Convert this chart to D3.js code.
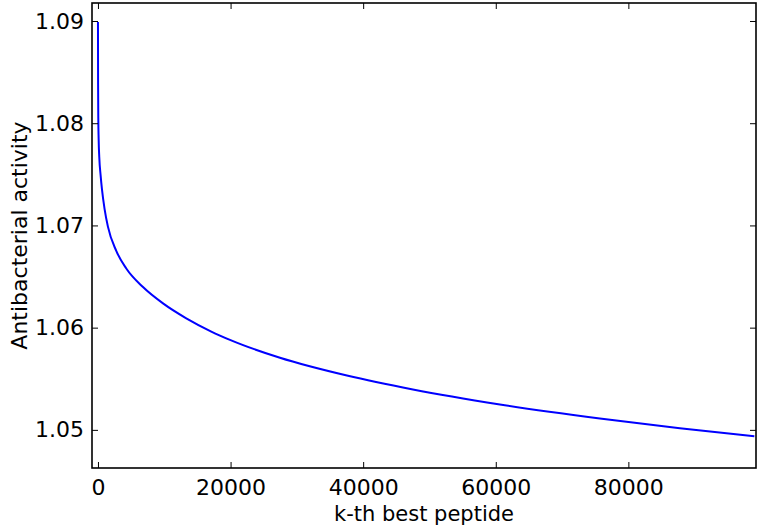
<!DOCTYPE html>
<html>
<head>
<meta charset="utf-8">
<script src="https://cdn.jsdelivr.net/npm/d3@7"></script>
<style>
  body { margin: 0; background: #fff; }
  text { font-family: "DejaVu Sans", sans-serif; fill: #000; }
</style>
</head>
<body>
<div id="chart"></div>
<script>
// rank of peptide vs. predicted activity
const ranks = [0, 20, 50, 100, 200, 400, 600, 1000, 1500, 2760, 4270, 6790, 9810,
  13320, 17090, 20000, 27450, 37550, 47500, 60620, 75700, 87770, 99000];
const activity = [1.0899, 1.0838, 1.0805, 1.0785, 1.07665, 1.0749, 1.07355, 1.0716, 1.06988,
  1.06751, 1.06579, 1.06397, 1.06237, 1.06091, 1.05962, 1.05878, 1.05705, 1.05531, 1.05395,
  1.05249, 1.05112, 1.05017, 1.04938];
const xTicks = [0, 20000, 40000, 60000, 80000];
const yTicks = [1.05, 1.06, 1.07, 1.08, 1.09];

const width = 760, height = 530;
const margin = {top: 3, right: 4, bottom: 62, left: 92};

const data = ranks.map((k, i) => ({k: k, v: activity[i]}));

const svg = d3.select("#chart").append("svg")
    .attr("width", width)
    .attr("height", height);

const x = d3.scaleLinear()
    .domain([-900, 99250])
    .range([margin.left, width - margin.right]);

const y = d3.scaleLinear()
    .domain([1.04627, 1.09176])
    .range([height - margin.bottom, margin.top]);

const plot = svg.append("g");

plot.append("defs").append("clipPath").attr("id", "clip")
    .append("rect")
    .attr("x", margin.left).attr("y", margin.top)
    .attr("width", width - margin.left - margin.right)
    .attr("height", height - margin.top - margin.bottom);

const line = d3.line()
    .x(d => x(d.k))
    .y(d => y(d.v))
    .curve(d3.curveMonotoneX);

plot.append("path")
    .datum(data)
    .attr("clip-path", "url(#clip)")
    .attr("fill", "none")
    .attr("stroke", "#0000ff")
    .attr("stroke-width", 2)
    .attr("d", line);

// ticks point inward, on all four sides (old matplotlib look)
const tickLen = 6;

const xAxisB = svg.append("g")
    .attr("transform", `translate(0,${height - margin.bottom})`)
    .call(d3.axisBottom(x).tickValues(xTicks).tickSizeInner(-tickLen).tickSizeOuter(0).tickPadding(11).tickFormat(d3.format("d")));
const xAxisT = svg.append("g")
    .attr("transform", `translate(0,${margin.top})`)
    .call(d3.axisTop(x).tickValues(xTicks).tickSizeInner(-tickLen).tickSizeOuter(0).tickFormat(""));
const yAxisL = svg.append("g")
    .attr("transform", `translate(${margin.left},0)`)
    .call(d3.axisLeft(y).tickValues(yTicks).tickSizeInner(-tickLen).tickSizeOuter(0).tickPadding(8).tickFormat(d3.format(".2f")));
const yAxisR = svg.append("g")
    .attr("transform", `translate(${width - margin.right},0)`)
    .call(d3.axisRight(y).tickValues(yTicks).tickSizeInner(-tickLen).tickSizeOuter(0).tickFormat(""));

[xAxisB, xAxisT, yAxisL, yAxisR].forEach(g => {
    g.select(".domain").remove();
    g.selectAll(".tick line").attr("stroke", "#000").attr("stroke-width", 1);
    g.selectAll(".tick text").style("font-size", "22px").attr("fill", "#000");
});

// frame
svg.append("rect")
    .attr("x", margin.left).attr("y", margin.top)
    .attr("width", width - margin.left - margin.right)
    .attr("height", height - margin.top - margin.bottom)
    .attr("fill", "none")
    .attr("stroke", "#000")
    .attr("stroke-width", 1.6);

svg.append("text")
    .attr("x", (margin.left + width - margin.right) / 2)
    .attr("y", 521)
    .attr("text-anchor", "middle")
    .style("font-size", "21px")
    .text("k-th best peptide");

svg.append("text")
    .attr("transform", `translate(27,${(margin.top + height - margin.bottom) / 2}) rotate(-90)`)
    .attr("text-anchor", "middle")
    .style("font-size", "22px")
    .text("Antibacterial activity");
</script>
</body>
</html>
